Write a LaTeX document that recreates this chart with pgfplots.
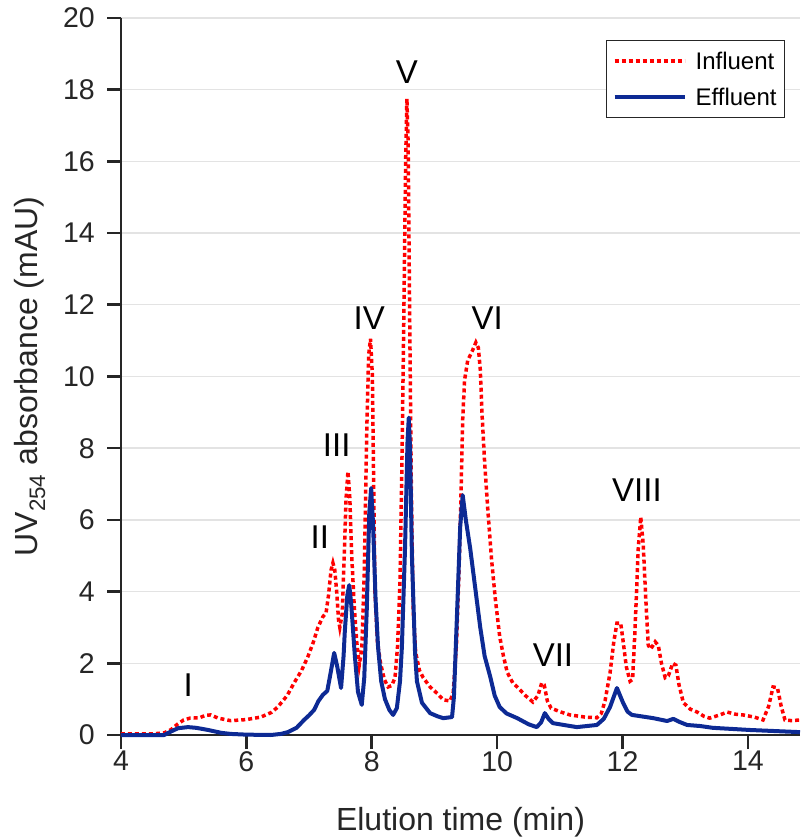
\documentclass[border=0pt]{standalone}
\usepackage{fontspec}
\setmainfont{Liberation Sans}
\usepackage{pgfplots}
\pgfplotsset{compat=1.18}
\definecolor{axgray}{HTML}{262626}
\definecolor{effblue}{HTML}{0D2A94}
\definecolor{gridgray}{HTML}{E3E3E3}

\begin{document}
\begin{tikzpicture}
\begin{axis}[
  at={(0,0)}, anchor=south west,
  scale only axis, width=679pt, height=717pt,
  xmin=4, xmax=14.83, ymin=0, ymax=20,
  axis x line*=bottom, axis y line*=left,
  axis line style={axgray, line width=2.6pt},
  tick align=outside, major tick length=14pt,
  every tick/.style={axgray, line width=2.6pt},
  xtick={4,6,...,14}, ytick={0,2,...,20},
  ymajorgrids, grid style={gridgray, line width=1.4pt},
  /pgf/number format/assume math mode=true,
  tick label style={font=\fontsize{28.5}{32}\selectfont, text=axgray},
  xticklabel style={inner sep=2pt},
  yticklabel style={inner sep=3pt, xshift=-9pt},
  xlabel={Elution time (min)},
  ylabel={UV\textsubscript{254} absorbance (mAU)},
  every axis x label/.style={at={(axis description cs:0.5,-0.1213)}, anchor=center,
    font=\fontsize{32}{36}\selectfont, text=axgray},
  every axis y label/.style={at={(axis description cs:-0.134,0.5)}, rotate=90, anchor=center,
    font=\fontsize{32}{36}\selectfont, text=axgray},
  legend style={at={(axis description cs:0.978,0.969)}, anchor=north east,
    draw=axgray, line width=1pt, font=\fontsize{24}{28}\selectfont,
    inner xsep=6pt, inner ysep=9pt, row sep=13pt, cells={anchor=west}},
  legend image code/.code={\draw[#1] (0pt,0pt) -- (70pt,0pt); \path (77pt,0pt);},
  clip=false,
]
% influent
\addplot[red, line width=3.5pt, dash pattern=on 4pt off 3pt] coordinates {
(4.0,0.03)(4.5,0.03)(4.69,0.06)(4.8,0.15)(4.9,0.3)(5.0,0.42)(5.1,0.47)(5.25,0.48)
(5.35,0.55)(5.43,0.56)(5.55,0.47)(5.75,0.40)(6.0,0.43)(6.23,0.5)(6.4,0.63)(6.5,0.78)
(6.65,1.1)(6.76,1.45)(6.88,1.8)(6.98,2.18)(7.07,2.6)(7.14,3.0)(7.22,3.3)(7.27,3.4)
(7.31,3.9)(7.35,4.6)(7.38,4.8)(7.41,4.6)(7.44,4.0)(7.47,3.2)(7.49,3.0)(7.53,3.4)
(7.56,5.0)(7.59,6.6)(7.62,7.35)(7.65,6.6)(7.68,5.0)(7.72,3.6)(7.76,2.6)(7.80,1.95)
(7.84,2.4)(7.88,4.5)(7.92,8.5)(7.95,10.6)(7.98,11.05)(8.01,10.0)(8.03,7.0)(8.05,4.0)
(8.09,2.6)(8.14,2.0)(8.20,1.55)(8.26,1.34)(8.32,1.38)(8.37,1.6)(8.41,2.45)(8.45,4.3)
(8.48,7.5)(8.51,11.5)(8.54,16.0)(8.56,17.75)(8.58,16.5)(8.60,12.5)(8.63,7.0)(8.66,3.5)
(8.70,2.3)(8.76,1.8)(8.82,1.6)(8.93,1.34)(9.05,1.15)(9.14,0.98)(9.25,0.95)(9.30,1.2)
(9.35,2.5)(9.39,4.5)(9.42,6.5)(9.45,8.8)(9.48,9.9)(9.53,10.45)(9.60,10.7)(9.66,10.95)
(9.70,10.8)(9.73,10.2)(9.76,8.9)(9.80,7.6)(9.85,6.3)(9.91,4.9)(9.97,3.8)(10.04,2.75)
(10.10,2.2)(10.16,1.75)(10.25,1.45)(10.32,1.34)(10.45,1.1)(10.57,0.92)(10.65,1.1)
(10.71,1.45)(10.75,1.4)(10.80,0.95)(10.86,0.75)(11.0,0.65)(11.16,0.56)(11.4,0.5)
(11.59,0.48)(11.66,0.6)(11.72,0.95)(11.80,1.73)(11.86,2.6)(11.91,3.12)(11.97,3.12)
(12.01,2.6)(12.06,1.9)(12.12,1.5)(12.16,1.55)(12.20,3.0)(12.25,5.2)(12.29,6.08)
(12.33,5.3)(12.37,3.8)(12.41,2.5)(12.45,2.4)(12.52,2.6)(12.57,2.5)(12.62,2.0)
(12.68,1.6)(12.73,1.65)(12.80,2.0)(12.85,1.95)(12.90,1.4)(12.97,0.9)(13.08,0.72)
(13.19,0.64)(13.3,0.52)(13.39,0.47)(13.55,0.56)(13.67,0.64)(13.8,0.58)(13.92,0.56)
(14.1,0.5)(14.24,0.42)(14.33,0.8)(14.40,1.34)(14.47,1.32)(14.53,0.8)(14.59,0.42)
(14.7,0.4)(14.83,0.42)
};
\addlegendentry{Influent}
% effluent
\addplot[effblue, line width=4pt, line join=round] coordinates {
(4.0,0)(4.69,0)(4.8,0.1)(4.91,0.19)(5.07,0.22)(5.2,0.2)(5.39,0.14)(5.6,0.06)
(5.75,0.03)(6.0,0.01)(6.39,0)(6.55,0.03)(6.66,0.08)(6.8,0.2)(6.92,0.42)(7.0,0.55)
(7.08,0.70)(7.15,0.95)(7.22,1.12)(7.29,1.23)(7.34,1.7)(7.40,2.29)(7.45,1.9)(7.51,1.31)
(7.55,2.2)(7.57,2.9)(7.61,3.9)(7.64,4.18)(7.67,3.7)(7.73,2.2)(7.78,1.2)(7.84,0.84)
(7.88,1.6)(7.92,3.5)(7.96,6.2)(7.99,6.89)(8.02,5.9)(8.06,3.8)(8.10,2.45)(8.15,1.5)
(8.21,1.0)(8.28,0.7)(8.34,0.56)(8.40,0.75)(8.45,1.5)(8.48,2.45)(8.53,5.2)(8.57,8.2)
(8.59,8.85)(8.61,8.0)(8.64,5.0)(8.69,2.3)(8.72,1.5)(8.80,0.9)(8.93,0.61)(9.05,0.52)
(9.14,0.47)(9.28,0.5)(9.31,1.06)(9.36,3.4)(9.41,5.8)(9.45,6.69)(9.50,6.0)(9.57,5.2)
(9.65,4.1)(9.73,3.0)(9.80,2.2)(9.89,1.62)(9.96,1.1)(10.04,0.78)(10.15,0.6)(10.32,0.47)
(10.5,0.3)(10.63,0.22)(10.70,0.35)(10.76,0.61)(10.82,0.45)(10.89,0.33)(11.27,0.22)
(11.59,0.28)(11.7,0.45)(11.8,0.78)(11.91,1.31)(12.01,0.89)(12.08,0.65)(12.15,0.56)
(12.49,0.47)(12.71,0.39)(12.81,0.45)(12.9,0.37)(13.03,0.28)(13.24,0.25)(13.44,0.20)
(14.03,0.14)(14.83,0.08)
};
\addlegendentry{Effluent}
\begin{scope}[every node/.style={font=\fontsize{33}{36}\selectfont, text=black}]
\node at (axis cs:5.07,1.39) {I};
\node at (axis cs:7.17,5.52) {II};
\node at (axis cs:7.44,8.09) {III};
\node at (axis cs:7.96,11.63) {IV};
\node at (axis cs:8.56,18.49) {V};
\node at (axis cs:9.84,11.63) {VI};
\node at (axis cs:10.89,2.23) {VII};
\node at (axis cs:12.23,6.83) {VIII};
\end{scope}
\end{axis}
\pgfresetboundingbox
\path (-121pt,-102pt) rectangle (679pt,735pt);
\end{tikzpicture}
\end{document}
